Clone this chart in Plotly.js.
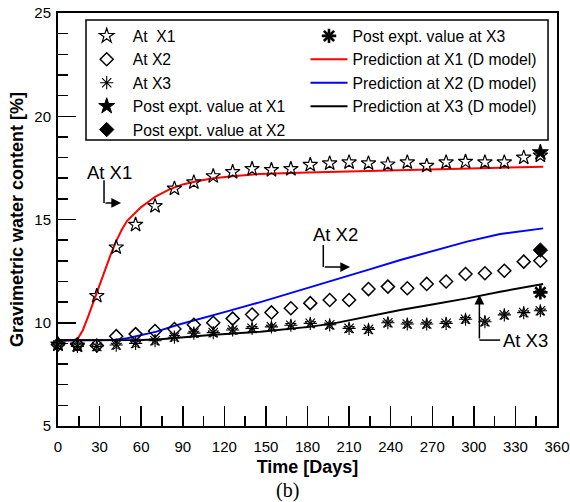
<!DOCTYPE html>
<html><head><meta charset="utf-8">
<script src="https://cdn.plot.ly/plotly-3.0.1.min.js"></script>
<style>html,body{margin:0;padding:0;background:#fff}#chart{width:570px;height:502px}</style>
</head><body><div id="chart"></div>
<script>
// Measured days
const days = [0,14,28,42,56,70,84,98,112,126,140,154,168,182,196,210,224,238,252,266,280,294,308,322,336,348];
const atX1 = [8.95,8.9,11.3,13.65,14.75,15.65,16.5,16.8,17.1,17.3,17.45,17.4,17.45,17.65,17.72,17.77,17.72,17.67,17.77,17.6,17.77,17.8,17.77,17.77,18.0,18.1];
const atX2 = [8.95,8.95,8.9,9.35,9.45,9.6,9.7,9.9,10.0,10.2,10.4,10.5,10.7,10.95,11.1,11.1,11.63,11.75,11.67,11.88,12.0,12.36,12.4,12.52,12.96,13.0];
const atX3 = [8.92,8.85,8.85,8.92,9.0,9.13,9.3,9.5,9.52,9.65,9.73,9.8,9.88,9.97,9.9,9.73,9.68,10.0,9.94,9.94,9.97,10.17,10.05,10.38,10.49,10.58];
const postDay = [348];
const postX1 = [18.25];
const postX2 = [13.52];
const postX3 = [11.47];
// Model predictions
const predX1Days = [0,10,14,18,22,26,30,34,38,42,46,50,55,60,65,70,80,90,100,112,126,145,180,220,270,320,350];
const predX1 = [9.15,9.15,9.2,9.65,10.35,11.1,11.75,12.5,13.3,13.95,14.5,14.95,15.3,15.6,15.85,16.1,16.45,16.7,16.85,17.0,17.1,17.2,17.28,17.35,17.43,17.5,17.56];
const predX2Days = [0,30,40,50,57,71,86,102,122,146,175,199,223,247,271,295,319,350];
const predX2 = [9.15,9.15,9.17,9.25,9.36,9.57,9.89,10.2,10.55,11.0,11.57,12.05,12.55,13.04,13.5,13.93,14.3,14.57];
const predX3Days = [0,50,60,74,90,110,146,160,181,199,223,247,271,295,319,350];
const predX3 = [9.15,9.15,9.17,9.2,9.3,9.41,9.57,9.65,9.8,9.97,10.29,10.62,10.9,11.18,11.5,11.88];

const F = 'Liberation Sans, Arial, sans-serif';
const mk = (sym, size, w, fill) => ({symbol: sym, size: size, color: fill || 'black', line: {color: 'black', width: w}});

const traces = [
  {x: predX1Days, y: predX1, mode: 'lines', name: 'Prediction at X1 (D model)', line: {color: '#ff0000', width: 2}, legend: 'legend2', legendrank: 2},
  {x: predX2Days, y: predX2, mode: 'lines', name: 'Prediction at X2 (D model)', line: {color: '#0000ff', width: 2}, legend: 'legend2', legendrank: 3},
  {x: predX3Days, y: predX3, mode: 'lines', name: 'Prediction at X3 (D model)', line: {color: '#000000', width: 2}, legend: 'legend2', legendrank: 4},
  {x: days, y: atX1, mode: 'markers', name: 'At  X1', marker: mk('star-open', 11, 1.2), legendrank: 1, cliponaxis: false},
  {x: days, y: atX2, mode: 'markers', name: 'At X2', marker: mk('diamond-open', 10, 1.5), legendrank: 2, cliponaxis: false},
  {x: days, y: atX3, mode: 'markers', name: 'At X3', marker: mk('asterisk-open', 11, 1.1), legendrank: 3, cliponaxis: false},
  {x: days, y: atX3, mode: 'markers', showlegend: false, hoverinfo: 'skip', marker: mk('star-open', 8, 1), cliponaxis: false},
  {x: postDay, y: postX1, mode: 'markers', name: 'Post expt. value at X1', marker: mk('star', 12, 1), legendrank: 4, cliponaxis: false},
  {x: postDay, y: postX2, mode: 'markers', name: 'Post expt. value at X2', marker: mk('diamond', 11, 1), legendrank: 5, cliponaxis: false},
  {x: postDay, y: postX3, mode: 'markers', name: 'Post expt. value at X3', marker: mk('asterisk-open', 12, 2.6), legend: 'legend2', legendrank: 1, cliponaxis: false},
  {x: postDay, y: postX3, mode: 'markers', showlegend: false, hoverinfo: 'skip', marker: mk('star', 8, 0.5), cliponaxis: false}
];

const ann = (text, x, y, xanchor) => ({text: text, x: x, y: y, xref: 'x', yref: 'y', showarrow: false, xanchor: xanchor || 'center', yanchor: 'middle', font: {family: F, size: 18.5, color: 'black'}});
const arrow = (x, y, ax, ay) => ({text: '', x: x, y: y, ax: ax, ay: ay, xref: 'x', yref: 'y', axref: 'x', ayref: 'y', showarrow: true, arrowhead: 2, arrowsize: 1.3, arrowwidth: 1.5, arrowcolor: 'black'});
const seg = (x0, y0, x1, y1) => ({type: 'line', xref: 'x', yref: 'y', x0: x0, y0: y0, x1: x1, y1: y1, line: {color: 'black', width: 1.5}});

const layout = {
  width: 570, height: 502,
  margin: {l: 58, r: 13, t: 13, b: 76},
  paper_bgcolor: 'white', plot_bgcolor: 'white',
  font: {family: F, color: 'black'},
  showlegend: true,
  xaxis: {
    range: [0, 360], dtick: 30, tick0: 0, ticks: 'inside', ticklen: 20, tickwidth: 1.5, tickcolor: 'black',
    minor: {dtick: 15, ticks: 'inside', ticklen: 10, tickwidth: 1.5, tickcolor: 'black'},
    showline: true, linewidth: 2, linecolor: 'black', mirror: true, showgrid: false, zeroline: false,
    tickfont: {family: F, size: 15}, ticklabelstandoff: 6,
    title: {text: 'Time [Days]', font: {family: F, size: 18, weight: 'bold'}, standoff: 6}
  },
  yaxis: {
    range: [5, 25], dtick: 5, tick0: 0, ticks: 'inside', ticklen: 18, tickwidth: 1.5, tickcolor: 'black',
    minor: {dtick: 1, ticks: 'inside', ticklen: 10, tickwidth: 1.5, tickcolor: 'black'},
    showline: true, linewidth: 2, linecolor: 'black', mirror: true, showgrid: false, zeroline: false,
    tickfont: {family: F, size: 15}, ticklabelstandoff: 2,
    title: {text: 'Gravimetric water content [%]', font: {family: F, size: 18, weight: 'bold'}, standoff: 6}
  },
  legend: {x: 0.0455, y: 0.985, xanchor: 'left', yanchor: 'top', bgcolor: 'rgba(0,0,0,0)', borderwidth: 0, itemwidth: 42, font: {family: F, size: 15.7}, tracegroupgap: 0},
  legend2: {x: 0.496, y: 0.985, xanchor: 'left', yanchor: 'top', bgcolor: 'rgba(0,0,0,0)', borderwidth: 0, itemwidth: 37, font: {family: F, size: 15.7}, tracegroupgap: 0},
  shapes: [
    {type: 'rect', xref: 'paper', yref: 'paper', x0: 0.0561, x1: 0.982, y0: 0.6925, y1: 0.983, line: {color: 'black', width: 1.5}, fillcolor: 'rgba(0,0,0,0)'},
    seg(33.2, 16.9, 33.2, 15.8),
    seg(191.4, 13.77, 191.4, 12.7),
    seg(304, 9.16, 319, 9.16)
  ],
  annotations: [
    ann('At X1', 37.5, 17.3),
    arrow(45.5, 15.8, 33.2, 15.8),
    ann('At X2', 199.9, 14.25),
    arrow(210.7, 12.7, 191.4, 12.7),
    ann('At X3', 319.3, 9.16, 'left'),
    arrow(304, 11.35, 304, 9.16),
    {text: '(b)', xref: 'paper', yref: 'paper', x: 0.46, y: -0.155, xanchor: 'center', yanchor: 'middle', showarrow: false, font: {family: 'Liberation Serif, Times New Roman, serif', size: 20, color: 'black'}}
  ]
};

Plotly.newPlot('chart', traces, layout, {displayModeBar: false, staticPlot: true});
</script></body></html>
